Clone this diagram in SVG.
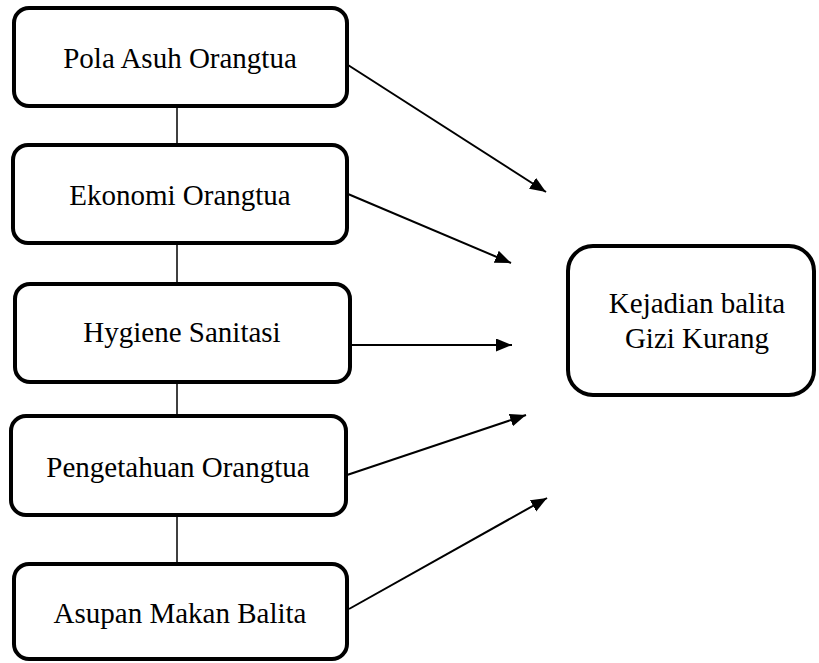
<svg xmlns="http://www.w3.org/2000/svg" width="819" height="663" viewBox="0 0 819 663">
<style>
.box{fill:#fff;stroke:#000;stroke-width:4}
.lbl{font-size:29px;fill:#000;text-anchor:middle}
.link{stroke:#000;stroke-width:1.5;fill:none}
.arr{stroke:#000;stroke-width:2;fill:none;marker-end:url(#ah)}
</style>
<defs>
<marker id="ah" markerUnits="userSpaceOnUse" markerWidth="17" markerHeight="14" refX="16" refY="6.5" orient="auto">
<path d="M0,0 L16,6.5 L0,13 z" fill="#000"/>
</marker>
</defs>
<g id="connectors">
<line class="link" x1="177" y1="106" x2="177" y2="145"/>
<line class="link" x1="177" y1="243" x2="177" y2="284"/>
<line class="link" x1="177" y1="382" x2="177" y2="416"/>
<line class="link" x1="177" y1="515" x2="177" y2="564"/>
<line class="arr" x1="348" y1="65" x2="546" y2="192"/>
<line class="arr" x1="348" y1="194" x2="511" y2="263"/>
<line class="arr" x1="351" y1="345" x2="512" y2="345"/>
<line class="arr" x1="347" y1="475" x2="526" y2="415"/>
<line class="arr" x1="349" y1="609" x2="547" y2="498"/>
</g>
<g font-family="Liberation Serif, Times New Roman, serif">
<g id="n1"><rect class="box" x="14" y="8" width="333" height="98" rx="15"/><text class="lbl" x="180" y="68">Pola Asuh Orangtua</text></g>
<g id="n2"><rect class="box" x="13" y="145" width="334" height="98" rx="15"/><text class="lbl" x="180" y="205">Ekonomi Orangtua</text></g>
<g id="n3"><rect class="box" x="15" y="284" width="335" height="98" rx="15"/><text class="lbl" x="182" y="342">Hygiene Sanitasi</text></g>
<g id="n4"><rect class="box" x="11" y="416" width="335" height="99" rx="15"/><text class="lbl" x="178" y="477">Pengetahuan Orangtua</text></g>
<g id="n5"><rect class="box" x="14" y="564" width="333" height="95" rx="15"/><text class="lbl" x="180" y="623">Asupan Makan Balita</text></g>
<g id="n6"><rect class="box" x="568" y="246" width="246" height="149" rx="25"/><text class="lbl" x="697" y="313">Kejadian balita</text><text class="lbl" x="697" y="348">Gizi Kurang</text></g>
</g>
</svg>
